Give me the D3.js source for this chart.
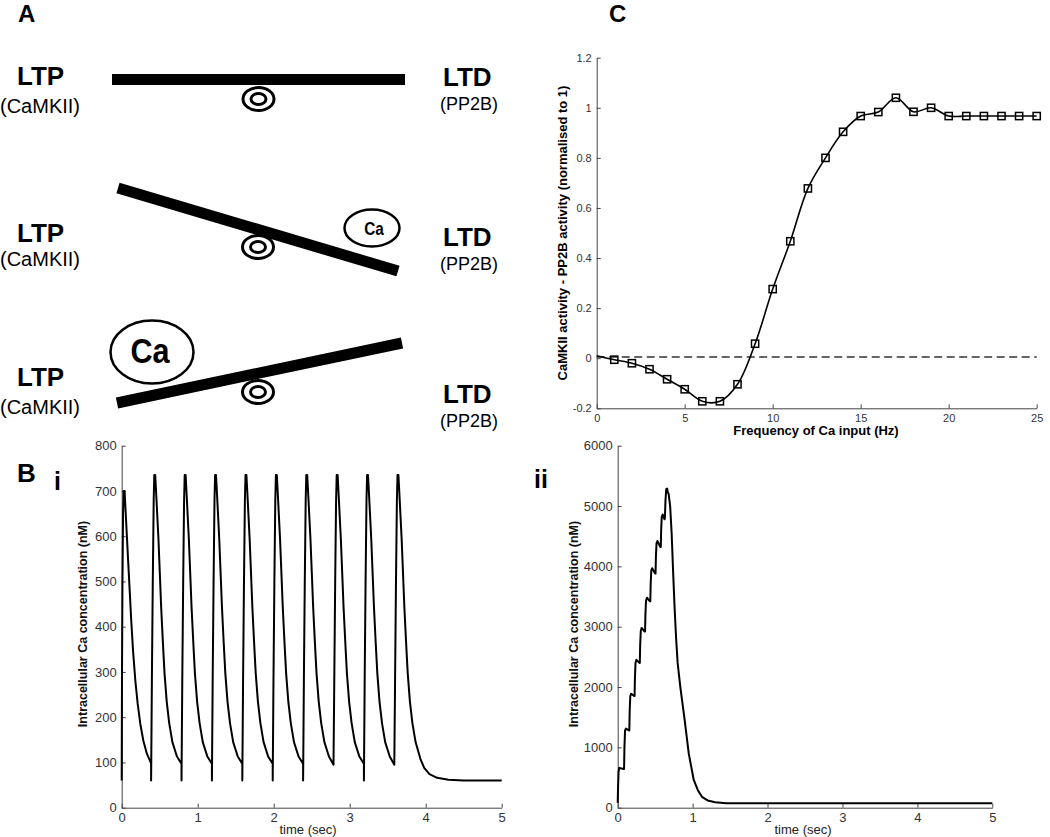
<!DOCTYPE html>
<html><head><meta charset="utf-8">
<script src="https://cdn.jsdelivr.net/npm/d3@7"></script>
<style>body{margin:0;background:#fff} svg{display:block} text{font-family:"Liberation Sans",Arial,sans-serif}</style>
</head><body><svg id="fig" width="1050" height="837"></svg>
<script>
// ---------- DATA ----------
// Panel C
const cFreq = [0,1,2,3,4,5,6,7,8,9,10,11,12,13,14,15,16,17,18,19,20,21,22,23,24,25];
const cValues = [0.01,-0.006,-0.02,-0.044,-0.084,-0.124,-0.172,-0.172,-0.104,0.058,0.276,0.467,0.678,0.80,0.904,0.967,0.983,1.04,0.984,1.0,0.967,0.967,0.967,0.967,0.967,0.967];
const cXTicks = [0,5,10,15,20,25];
const cYTicks = [-0.2,0,0.2,0.4,0.6,0.8,1,1.2];
// Panel B i : [time (s), Ca (nM)]
const biTrace = [
[0,60],[0.004,300],[0.01,500],[0.018,650],[0.026,700],[0.032,680],[0.038,700],[0.05,660],[0.065,610],[0.085,545],[0.105,480],[0.125,415],[0.15,345],[0.18,280],[0.21,230],[0.245,185],[0.285,148],[0.33,120],[0.387,98],
[0.387,60],[0.397,280],[0.409,500],[0.421,680],[0.429,735],[0.435,712],[0.441,735],[0.455,690],[0.484,592],[0.519,444],[0.542,365],[0.563,298],[0.592,235],[0.625,187],[0.667,145],[0.727,113],[0.787,97],
[0.787,60],[0.797,280],[0.809,500],[0.821,680],[0.829,735],[0.835,712],[0.841,735],[0.855,690],[0.884,592],[0.919,444],[0.942,365],[0.963,298],[0.992,235],[1.025,187],[1.067,145],[1.127,113],[1.187,97],
[1.187,60],[1.197,280],[1.209,500],[1.221,680],[1.229,735],[1.235,712],[1.241,735],[1.255,690],[1.284,592],[1.319,444],[1.342,365],[1.363,298],[1.392,235],[1.425,187],[1.467,145],[1.527,113],[1.587,97],
[1.587,60],[1.597,280],[1.609,500],[1.621,680],[1.629,735],[1.635,712],[1.641,735],[1.655,690],[1.684,592],[1.719,444],[1.742,365],[1.763,298],[1.792,235],[1.825,187],[1.867,145],[1.927,113],[1.987,97],
[1.987,60],[1.997,280],[2.009,500],[2.021,680],[2.029,735],[2.035,712],[2.041,735],[2.055,690],[2.084,592],[2.119,444],[2.142,365],[2.163,298],[2.192,235],[2.225,187],[2.267,145],[2.327,113],[2.387,97],
[2.387,60],[2.397,280],[2.409,500],[2.421,680],[2.429,735],[2.435,712],[2.441,735],[2.455,690],[2.484,592],[2.519,444],[2.542,365],[2.563,298],[2.592,235],[2.625,187],[2.667,145],[2.727,113],[2.787,95],
[2.797,280],[2.809,500],[2.821,680],[2.829,735],[2.835,712],[2.841,735],[2.855,690],[2.884,592],[2.919,444],[2.942,365],[2.963,298],[2.992,235],[3.025,187],[3.067,145],[3.127,113],[3.187,97],
[3.187,60],[3.197,280],[3.209,500],[3.221,680],[3.229,735],[3.235,712],[3.241,735],[3.255,690],[3.284,592],[3.319,444],[3.342,365],[3.363,298],[3.392,235],[3.425,187],[3.467,145],[3.527,113],[3.587,95],
[3.597,280],[3.609,500],[3.621,680],[3.629,735],[3.635,712],[3.641,735],[3.655,690],[3.684,592],[3.719,444],[3.742,365],[3.763,298],[3.792,235],[3.825,187],[3.867,145],[3.93,108],[3.98,88],[4.05,74],[4.15,66],[4.3,62],[4.5,60],[5,60]
];
const biXTicks = [0,1,2,3,4,5];
const biYTicks = [0,100,200,300,400,500,600,700,800];
// Panel B ii : [time (s), Ca (nM)]
const biiTrace = [
[0,80],[0.005,350],[0.012,600],[0.02,660],[0.08,640],
[0.085,640],[0.09,1000],[0.098,1280],[0.11,1310],[0.15,1280],
[0.155,1280],[0.16,1600],[0.168,1850],[0.18,1890],[0.22,1850],
[0.225,1850],[0.23,2150],[0.238,2400],[0.25,2450],[0.29,2400],
[0.295,2400],[0.3,2700],[0.308,2930],[0.32,2980],[0.36,2920],
[0.365,2920],[0.37,3200],[0.378,3430],[0.39,3480],[0.43,3420],
[0.435,3420],[0.44,3700],[0.448,3930],[0.46,3970],[0.5,3880],
[0.505,3880],[0.51,4150],[0.518,4380],[0.53,4420],[0.57,4320],
[0.575,4320],[0.58,4600],[0.588,4820],[0.6,4860],[0.625,4780],
[0.63,4800],[0.638,5100],[0.648,5280],[0.66,5290],[0.668,5230],
[0.68,5200],[0.70,5000],[0.72,4550],[0.74,3900],[0.76,3300],[0.78,2800],[0.80,2400],[0.836,2000],[0.894,1450],[0.948,900],[1.015,460],[1.07,290],[1.125,180],[1.2,120],[1.3,90],[1.45,75],[2.5,72],[5,72]
];
const biiXTicks = [0,1,2,3,4,5];
const biiYTicks = [0,1000,2000,3000,4000,5000,6000];

// ---------- DRAWING ----------
const svg = d3.select('#fig');
const FONT = '"Liberation Sans",Arial,sans-serif';

function txt(x, y, s, size, weight, anchor) {
  return svg.append('text').attr('x', x).attr('y', y).text(s)
    .attr('font-size', size).attr('font-weight', weight || 'normal')
    .attr('text-anchor', anchor || 'start').attr('fill', '#000');
}

function axes(x, y, xt, yt, xfmt, yfmt, fs, xpad) {
  const gx = svg.append('g').attr('transform', `translate(0,${y.range()[0]})`)
    .call(d3.axisBottom(x).tickValues(xt).tickSizeInner(-4).tickSizeOuter(0).tickPadding(xpad).tickFormat(xfmt));
  const gy = svg.append('g').attr('transform', `translate(${x.range()[0]},0)`)
    .call(d3.axisLeft(y).tickValues(yt).tickSizeInner(-4).tickSizeOuter(0).tickPadding(5).tickFormat(yfmt));
  [gx, gy].forEach(g => {
    g.attr('font-family', FONT).attr('font-size', fs);
    g.selectAll('path,line').attr('stroke', '#444').attr('stroke-width', 1);
    g.selectAll('text').attr('fill', '#333');
  });
}

// ----- Panel A -----
txt(18, 22, 'A', 24, 'bold');
const rowsA = [
  {ltp: 85, cam: 113, ltd: 86, pp: 110},
  {ltp: 242, cam: 266, ltd: 246, pp: 270},
  {ltp: 386, cam: 414, ltd: 403, pp: 427}
];
rowsA.forEach(r => {
  txt(17, r.ltp, 'LTP', 26, 'bold');
  txt(0, r.cam, '(CaMKII)', 20);
  txt(443, r.ltd, 'LTD', 26, 'bold');
  txt(440, r.pp, '(PP2B)', 18);
});
const beams = [[[112,79.5],[405,79.5]], [[118,188],[398,271]], [[117,403],[402,343]]];
beams.forEach(b => {
  svg.append('line').attr('x1', b[0][0]).attr('y1', b[0][1]).attr('x2', b[1][0]).attr('y2', b[1][1])
    .attr('stroke', '#000').attr('stroke-width', 11);
});
[[258.5,99],[258,247],[258,392]].forEach(c => {
  svg.append('ellipse').attr('cx', c[0]).attr('cy', c[1]).attr('rx', 15.5).attr('ry', 11.5)
    .attr('fill', '#fff').attr('stroke', '#000').attr('stroke-width', 3);
  svg.append('ellipse').attr('cx', c[0]).attr('cy', c[1]).attr('rx', 7.5).attr('ry', 5.5)
    .attr('fill', '#fff').attr('stroke', '#000').attr('stroke-width', 3);
});
svg.append('ellipse').attr('cx', 372).attr('cy', 228).attr('rx', 27.5).attr('ry', 18.5)
  .attr('fill', '#fff').attr('stroke', '#000').attr('stroke-width', 2.5);
svg.append('text').attr('transform', 'translate(374,235) scale(0.85,1)').attr('text-anchor', 'middle')
  .attr('font-size', 18).attr('font-weight', 'bold').text('Ca');
svg.append('ellipse').attr('cx', 152).attr('cy', 352).attr('rx', 41.5).attr('ry', 31.5)
  .attr('fill', '#fff').attr('stroke', '#000').attr('stroke-width', 2.5);
svg.append('text').attr('transform', 'translate(150,363) scale(0.85,1)').attr('text-anchor', 'middle')
  .attr('font-size', 36).attr('font-weight', 'bold').text('Ca');

// ----- Panel C -----
txt(609, 22, 'C', 24, 'bold');
const cx = d3.scaleLinear().domain([0, 25]).range([596.7, 1036.7]);
const cy = d3.scaleLinear().domain([-0.2, 1.2]).range([408.3, 57.7]);
axes(cx, cy, cXTicks, cYTicks, d => String(d), d => String(+d.toFixed(1)), 11, 6);
svg.append('line').attr('x1', cx(0)).attr('x2', cx(25)).attr('y1', cy(0.005)).attr('y2', cy(0.005))
  .attr('stroke', '#333').attr('stroke-width', 1.5).attr('stroke-dasharray', '8,4.5');
const cPts = cFreq.map((f, i) => [f, cValues[i]]);
svg.append('path').datum(cPts)
  .attr('d', d3.line().x(d => cx(d[0])).y(d => cy(d[1])).curve(d3.curveCatmullRom.alpha(0.5)))
  .attr('fill', 'none').attr('stroke', '#000').attr('stroke-width', 1.6);
svg.append('g').selectAll('rect').data(cPts.slice(1)).join('rect')
  .attr('x', d => cx(d[0]) - 3.6).attr('y', d => cy(d[1]) - 3.6).attr('width', 7.2).attr('height', 7.2)
  .attr('fill', 'none').attr('stroke', '#000').attr('stroke-width', 1.5);
txt(816, 435, 'Frequency of Ca input (Hz)', 13, 'bold', 'middle');
svg.append('text').attr('transform', `translate(567,${(cy.range()[0] + cy.range()[1]) / 2}) rotate(-90)`)
  .attr('text-anchor', 'middle').attr('font-size', 13).attr('font-weight', 'bold')
  .text('CaMKII activity - PP2B activity (normalised to 1)');

// ----- Panel B i -----
txt(17, 482, 'B', 26, 'bold');
txt(54, 490, 'i', 25, 'bold');
const bix = d3.scaleLinear().domain([0, 5]).range([121.7, 501.7]);
const biy = d3.scaleLinear().domain([0, 800]).range([807.7, 445.7]);
axes(bix, biy, biXTicks, biYTicks, d => String(d), d => String(d), 13, 5);
svg.append('path').datum(biTrace)
  .attr('d', d3.line().x(d => bix(d[0])).y(d => biy(d[1])))
  .attr('fill', 'none').attr('stroke', '#000').attr('stroke-width', 2).attr('stroke-linejoin', 'round');
txt(308, 834, 'time (sec)', 13, 'normal', 'middle').attr('fill', '#222');
svg.append('text').attr('transform', 'translate(87,624) rotate(-90)')
  .attr('text-anchor', 'middle').attr('font-size', 12.5).attr('font-weight', 'bold').attr('fill', '#111')
  .text('Intracellular Ca concentration (nM)');

// ----- Panel B ii -----
txt(534, 488, 'ii', 25, 'bold');
const biix = d3.scaleLinear().domain([0, 5]).range([617.7, 992.3]);
const biiy = d3.scaleLinear().domain([0, 6000]).range([807.7, 445.7]);
axes(biix, biiy, biiXTicks, biiYTicks, d => String(d), d => String(d), 13, 5);
svg.append('path').datum(biiTrace)
  .attr('d', d3.line().x(d => biix(d[0])).y(d => biiy(d[1])))
  .attr('fill', 'none').attr('stroke', '#000').attr('stroke-width', 2).attr('stroke-linejoin', 'round');
txt(803, 834, 'time (sec)', 13, 'normal', 'middle').attr('fill', '#222');
svg.append('text').attr('transform', 'translate(578,624) rotate(-90)')
  .attr('text-anchor', 'middle').attr('font-size', 12.5).attr('font-weight', 'bold').attr('fill', '#111')
  .text('Intracellular Ca concentration (nM)');
</script></body></html>
